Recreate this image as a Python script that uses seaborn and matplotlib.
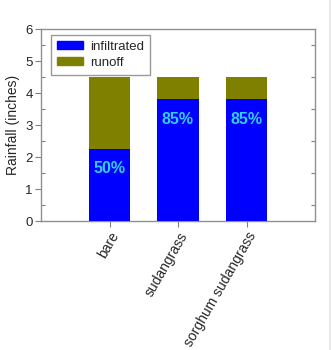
import matplotlib
matplotlib.use("Agg")
import matplotlib.pyplot as plt
from matplotlib.ticker import MultipleLocator
from matplotlib.lines import Line2D
import seaborn as sns
import pandas as pd

categories = ["bare", "sudangrass", "sorghum sudangrass"]
infiltrated = [2.25, 3.8, 3.8]
total = [4.5, 4.5, 4.5]
pct_labels = ["50%", "85%", "85%"]

sns.set_style("white")
plt.rcParams["font.family"] = ["Liberation Sans", "DejaVu Sans"]

df = pd.DataFrame({"cat": categories, "infiltrated": infiltrated, "total": total})

fig = plt.figure(figsize=(3.31, 3.5), dpi=100)
ax = fig.add_axes([41/331, 1 - 221/350, (315-41)/331, (221-29)/350])

blue = "#0000FF"
olive = "#808000"
sns.barplot(data=df, x="cat", y="total", color=olive, saturation=1, width=0.61,
            ax=ax, label="runoff", zorder=2, linewidth=0)
sns.barplot(data=df, x="cat", y="infiltrated", color=blue, saturation=1, width=0.61,
            ax=ax, label="infiltrated", zorder=3, linewidth=0)

for i, (v, t) in enumerate(zip(infiltrated, pct_labels)):
    ax.text(i, v - 0.62, t, color="#33CCFF", fontsize=11.5, fontweight="bold",
            ha="center", va="center", zorder=4)

ax.set_xlim(-1, 3)
ax.set_ylim(0, 6)
ax.set_xlabel("")
ax.set_ylabel("Rainfall (inches)", fontsize=10, labelpad=4)

ax.yaxis.set_major_locator(MultipleLocator(1))
ax.yaxis.set_minor_locator(MultipleLocator(0.5))
ax.tick_params(axis="y", which="major", direction="out", length=4, width=0.8,
               color="#808080", labelsize=9.5, left=True, pad=2)
ax.tick_params(axis="y", which="minor", direction="in", length=3, width=0.8,
               color="#808080", left=True, right=True)
ax.tick_params(axis="x", which="major", direction="out", length=4, width=0.8,
               color="#808080", labelsize=10, bottom=True, pad=2)
ax.set_xticks(range(len(categories)))
ax.set_xticklabels(categories, rotation=60, ha="right", rotation_mode="anchor")

for s in ax.spines.values():
    s.set_color("#909090")
    s.set_linewidth(1.0)

handles = [plt.Rectangle((0, 0), 1, 1, color=blue), plt.Rectangle((0, 0), 1, 1, color=olive)]
leg = ax.legend(handles, ["infiltrated", "runoff"], loc="upper left",
                bbox_to_anchor=(10/274, 1 - 6/192), borderaxespad=0, fontsize=9.5,
                frameon=True, fancybox=False, handlelength=2.0, handleheight=0.55,
                borderpad=0.45, labelspacing=0.3, handletextpad=0.5)
leg.get_frame().set_edgecolor("#808080")
leg.get_frame().set_linewidth(1.0)

fig.add_artist(Line2D([329.5/331, 329.5/331], [0, 1], color="#e6e6e6", lw=1.2))

fig.savefig("out.png", dpi=100)
